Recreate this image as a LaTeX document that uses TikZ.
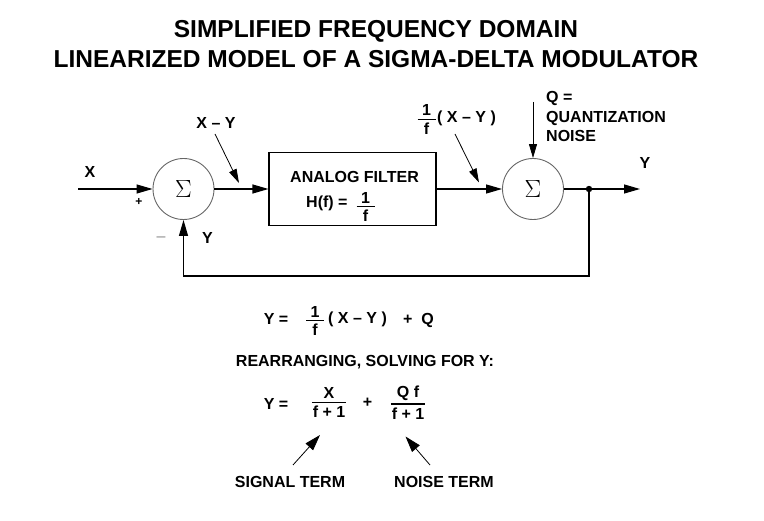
\documentclass[tikz,border=0pt]{standalone}
\usepackage{fontspec}
\setmainfont{Liberation Sans}
\usetikzlibrary{arrows.meta}
\newcommand\myfrac[2]{\setbox0\hbox{#1}\setbox2\hbox{#2}%
\dimen0=\wd0 \ifdim\wd2>\dimen0 \dimen0=\wd2\fi \advance\dimen0 by 2pt
\ifdim\dimen0<18pt \dimen0=18pt\fi
\vbox{\offinterlineskip\hbox to\dimen0{\hss\box0\hss}\kern3pt\hrule height 1.2pt\kern3pt\hbox to\dimen0{\hss\box2\hss}}}
\begin{document}
\begin{tikzpicture}[x=1pt,y=-1pt,
  lbl/.style={font=\fontsize{16}{16}\selectfont\bfseries, inner sep=0pt, text height=11.5pt, text depth=0pt},
  frc/.style={font=\fontsize{16}{16}\selectfont\bfseries, inner sep=0pt},
  ttl/.style={font=\fontsize{24.5}{24.5}\selectfont\bfseries, inner sep=0pt, text height=17.5pt, text depth=0pt},
  sumc/.style={circle, draw=black!60, line width=0.9pt, minimum size=61pt, inner sep=0pt, font=\fontsize{25}{25}\selectfont},
  blk/.style={draw, line width=1.1pt, minimum width=167pt, minimum height=73pt, inner sep=0pt},
  sig/.style={line width=1.2pt, -{Triangle[length=16pt,width=9pt]}},
  ptr/.style={line width=0.8pt, -{Triangle[length=14pt,width=8pt]}},
  bigptr/.style={line width=0.8pt, -{Triangle[length=16pt,width=10pt]}},
]
\useasboundingbox (0,0) rectangle (764,521);
% title
\node[ttl] (t1) at (376,29) {SIMPLIFIED FREQUENCY DOMAIN};
\node[ttl] (t2) at (376,58.5) {LINEARIZED MODEL OF A SIGMA-DELTA MODULATOR};
% blocks
\node[sumc] (s1) at (183.5,189) {$\Sigma$};
\node[sumc] (s2) at (533,189) {$\Sigma$};
\node[blk] (flt) at (352.5,189) {};
\node[lbl] (fl1) at (354.5,177) {ANALOG FILTER};
\node[lbl, anchor=west] (fl2) at (306,202) {H(f) =};
\node[frc] (fl3) at (365.5,207) {\myfrac{1}{f}};
% connectors
\coordinate (xin) at (78,189);
\coordinate (dot) at (589,189);
\coordinate (yout) at (640,189);
\coordinate (fb) at (589,276);
\draw[sig] (xin) -- (s1.west);
\draw[sig] (s1.east) -- (s1.east -| flt.west);
\draw[sig] (s2.west -| flt.east) -- (s2.west);
\draw[sig] (s2.east) -- (yout);
\fill (dot) circle (3.2pt);
\draw[sig] (dot) -- (fb) -| (s1.south);
% labels diagram
\node[lbl] (lx) at (90,172) {X};
\node[font=\fontsize{12}{12}\selectfont\bfseries, inner sep=0pt] (plus) at (139,202) {+};
\node[font=\fontsize{16}{16}\selectfont, text=black!45, inner sep=0pt] (minus) at (161,239) {–};
\node[lbl] (ly1) at (207.5,238) {Y};
\node[lbl] (lxy) at (216,123) {X – Y};
\coordinate (a1s) at (215,134);
\coordinate (a1e) at (239,183);
\draw[ptr] (a1s) -- (a1e);
\node[frc] (ff) at (426.5,119.5) {\myfrac{1}{f}};
\node[lbl, anchor=west] (fxy) at (437,117) {( X – Y )};
\coordinate (a2s) at (455,134);
\coordinate (a2e) at (479,182.5);
\draw[ptr] (a2s) -- (a2e);
\node[lbl, anchor=west] (q1) at (546,97) {Q =};
\node[lbl, anchor=west] (q2) at (546,117) {QUANTIZATION};
\node[lbl, anchor=west] (q3) at (546,136) {NOISE};
\coordinate (qa) at (533,102);
\draw[ptr] (qa) -- (s2.north);
\node[lbl] (ly2) at (645,163) {Y};
% equations
\node[lbl] (e1y) at (276,319) {Y =};
\node[frc] (e1f) at (315,321) {\myfrac{1}{f}};
\node[lbl, anchor=west] (e1p) at (328,318) {( X – Y )};
\node[lbl, anchor=west] (e1q) at (403,319) {+ \ Q};
\node[lbl] (rear) at (365,361) {REARRANGING, SOLVING FOR Y:};
\node[lbl] (e2y) at (276,404) {Y =};
\node[frc] (e2a) at (329,402.5) {\myfrac{X}{f + 1}};
\node[lbl] (e2p) at (367.5,402) {+};
\node[frc] (e2b) at (408,402.5) {\myfrac{Q f}{f + 1}};
\node[lbl] (sigt) at (290,482) {SIGNAL TERM};
\node[lbl] (noit) at (444,482) {NOISE TERM};
\coordinate (sa) at (293,465);
\coordinate (se) at (320,435);
\coordinate (na) at (430,465);
\coordinate (ne) at (405.5,436.5);
\draw[bigptr] (sa) -- (se);
\draw[bigptr] (na) -- (ne);
\end{tikzpicture}
\end{document}
